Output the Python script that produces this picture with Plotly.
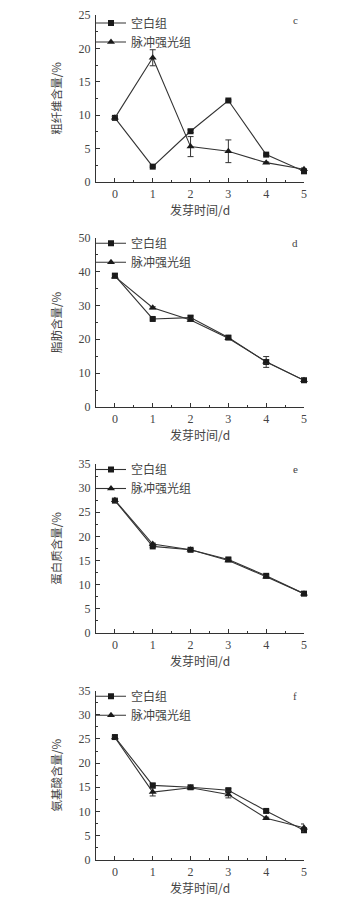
import plotly.graph_objects as go

days = [0, 1, 2, 3, 4, 5]
series_names = ["空白组", "脉冲强光组"]

# panel c: crude fiber
fiber_ctrl = [9.6, 2.3, 7.6, 12.2, 4.1, 1.6]
fiber_ctrl_err = [0.2, 0.1, 0.2, 0.1, 0.1, 0.3]
fiber_pl = [9.6, 18.6, 5.3, 4.6, 2.9, 1.9]
fiber_pl_err = [0.2, 1.2, 1.5, 1.7, 0.1, 0.2]

# panel d: fat
fat_ctrl = [38.8, 26.0, 26.4, 20.5, 13.3, 7.9]
fat_ctrl_err = [0.5, 0.3, 0.5, 0.5, 1.6, 0.3]
fat_pl = [38.5, 29.3, 25.7, 20.3, 13.4, 7.9]
fat_pl_err = [0.4, 0.3, 0.4, 0.3, 0.5, 0.3]

# panel e: protein
prot_ctrl = [27.4, 17.9, 17.2, 15.2, 11.8, 8.1]
prot_ctrl_err = [0.2, 0.2, 0.2, 0.3, 0.3, 0.2]
prot_pl = [27.5, 18.4, 17.2, 15.0, 11.6, 8.1]
prot_pl_err = [0.3, 0.2, 0.2, 0.2, 0.2, 0.2]

# panel f: amino acids
amino_ctrl = [25.4, 15.4, 15.0, 14.4, 10.1, 6.1]
amino_ctrl_err = [0.2, 0.3, 0.2, 0.3, 0.2, 0.3]
amino_pl = [25.3, 14.0, 14.9, 13.5, 8.6, 6.6]
amino_pl_err = [0.2, 0.8, 0.2, 0.7, 0.2, 0.8]

y_titles = ["粗纤维含量/%", "脂肪含量/%", "蛋白质含量/%", "氨基酸含量/%"]
x_title = "发芽时间/d"
panel_labels = ["c", "d", "e", "f"]
y_max = [25, 50, 35, 35]
y_dtick = [5, 10, 5, 5]

panels = [
    (fiber_ctrl, fiber_ctrl_err, fiber_pl, fiber_pl_err),
    (fat_ctrl, fat_ctrl_err, fat_pl, fat_pl_err),
    (prot_ctrl, prot_ctrl_err, prot_pl, prot_pl_err),
    (amino_ctrl, amino_ctrl_err, amino_pl, amino_pl_err),
]

OFF = 8  # browser body margin
W, H = 360 - OFF, 900 - OFF


def px(xp):
    return (xp - OFF) / W


def py(yp):
    return 1 - (yp - OFF) / H


x_dom = [px(96), px(304)]
# top, bottom page pixel of each plot area
y_pix = [(15.0, 182.0), (237.7, 407.0), (464.0, 632.7), (690.7, 859.7)]

LINE = "#333333"
TEXT = "#444444"
SERIF = "Liberation Serif, Times New Roman, serif"
CJK = "Noto Sans CJK SC, sans-serif"

fig = go.Figure()
annotations = []
layout = {}

for i, (c, ce, p, pe) in enumerate(panels):
    n = "" if i == 0 else str(i + 1)
    xa, ya = "x" + n, "y" + n
    leg = "legend" + n
    fig.add_trace(go.Scatter(
        x=days, y=c, name=series_names[0], xaxis=xa, yaxis=ya, legend=leg,
        mode="lines+markers", cliponaxis=False,
        line=dict(color=LINE, width=1.1),
        marker=dict(symbol="square", size=6, color="#1a1a1a"),
        error_y=dict(type="data", array=ce, visible=True, color=LINE, thickness=1, width=3),
    ))
    fig.add_trace(go.Scatter(
        x=days, y=p, name=series_names[1], xaxis=xa, yaxis=ya, legend=leg,
        mode="lines+markers", cliponaxis=False,
        line=dict(color=LINE, width=1.1),
        marker=dict(symbol="triangle-up", size=7, color="#1a1a1a"),
        error_y=dict(type="data", array=pe, visible=True, color=LINE, thickness=1, width=3),
    ))
    top, bot = y_pix[i]
    layout["xaxis" + n] = dict(
        domain=x_dom, anchor=ya, range=[-0.5, 5], tickvals=days, automargin=False,
        showline=True, linecolor=LINE, linewidth=1, showgrid=False, zeroline=False,
        ticks="inside", ticklen=4, tickcolor=LINE, ticklabeloverflow="allow",
        minor=dict(dtick=0.5, tick0=0.5, ticks="inside", ticklen=2, tickcolor=LINE),
        tickfont=dict(family=SERIF, size=12, color=TEXT), ticklabelstandoff=1,
        title=dict(text=x_title, font=dict(family=CJK, size=12, color=TEXT), standoff=5),
    )
    layout["yaxis" + n] = dict(
        domain=[py(bot), py(top)], anchor=xa, range=[0, y_max[i]], dtick=y_dtick[i],
        automargin=False, ticklabeloverflow="allow",
        showline=True, linecolor=LINE, linewidth=1, showgrid=False, zeroline=False,
        ticks="inside", ticklen=4, tickcolor=LINE,
        minor=dict(dtick=y_dtick[i] / 2, ticks="inside", ticklen=2, tickcolor=LINE),
        tickfont=dict(family=SERIF, size=12, color=TEXT), ticklabelstandoff=2,
        title=dict(text=y_titles[i], font=dict(family=CJK, size=11.5, color=TEXT), standoff=14),
    )
    layout[leg] = dict(
        x=px(91), y=py(max(top - 9, 8.5)), xanchor="left", yanchor="top",
        bgcolor="rgba(0,0,0,0)", font=dict(family=CJK, size=12, color=TEXT),
        itemwidth=30, tracegroupgap=0, itemsizing="trace",
    )
    annotations.append(dict(
        text=panel_labels[i], x=px(295), y=py(top + 5), xref="paper", yref="paper",
        xanchor="center", yanchor="middle", showarrow=False,
        font=dict(family=SERIF, size=11, color=TEXT),
    ))

fig.update_layout(
    width=W, height=H, margin=dict(l=0, r=0, t=0, b=0, autoexpand=False),
    paper_bgcolor="white", plot_bgcolor="white",
    showlegend=True, annotations=annotations, **layout,
)

fig.write_html("out.html")
